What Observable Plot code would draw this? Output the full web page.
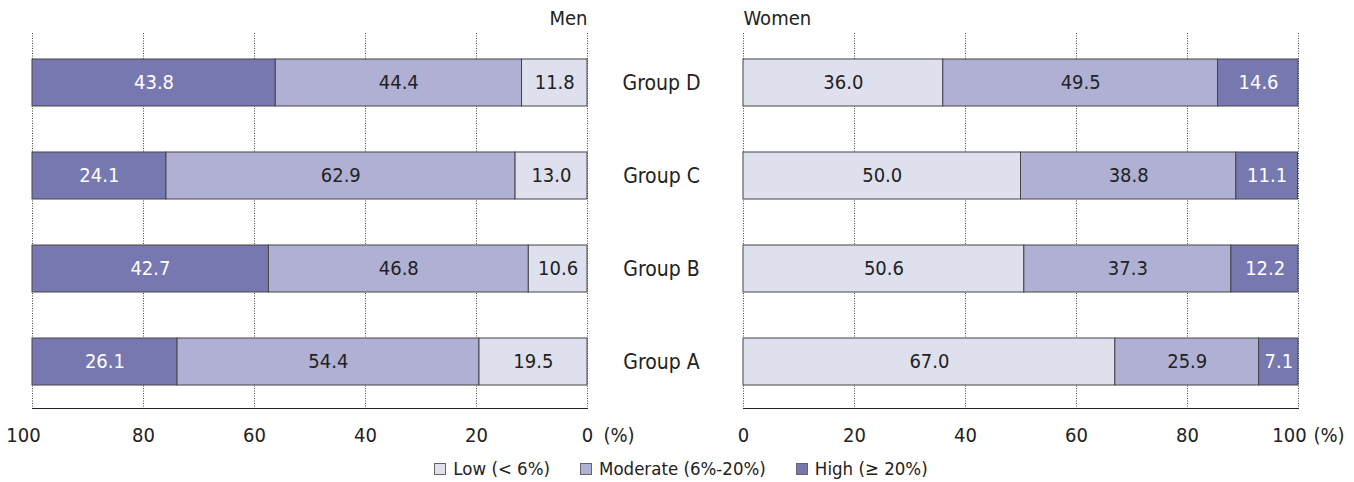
<!DOCTYPE html>
<html>
<head>
<meta charset="utf-8">
<script src="https://cdn.jsdelivr.net/npm/d3@7"></script>
<script src="https://cdn.jsdelivr.net/npm/@observablehq/plot@0.6"></script>
<style>
  body { margin: 0; background: #fff; font-family: "DejaVu Sans Condensed", sans-serif; }
  #wrap { width: 1354px; }
  #plots { display: flex; }
  #legend { height: 27px; display: flex; justify-content: center; align-items: center; gap: 30px; font-size: 18.5px; color: #222; padding-left: 8px; }
  .item { display: flex; align-items: center; gap: 7px; }
  .sw { width: 10px; height: 10px; border: 1px solid #666; display: inline-block; }
  g[aria-label^="x-axis"] path, g[aria-label^="x-axis"] line { stroke: #555; stroke-width: 2px; }
</style>
</head>
<body>
<div id="wrap">
  <div id="plots"></div>
  <div id="legend"></div>
</div>
<script>
const groups = ["Group D", "Group C", "Group B", "Group A"];
const levels = ["Low", "Moderate", "High"];
const legendLabels = ["Low (< 6%)", "Moderate (6%-20%)", "High (\u2265 20%)"];
const colors = ["#dfe0ee", "#b0b0d4", "#7778b0"];
const ticks = [0, 20, 40, 60, 80, 100];

// Men (Group D, C, B, A)
const menLow = [11.8, 13.0, 10.6, 19.5];
const menModerate = [44.4, 62.9, 46.8, 54.4];
const menHigh = [43.8, 24.1, 42.7, 26.1];
// Women (Group D, C, B, A)
const womenLow = [36.0, 50.0, 50.6, 67.0];
const womenModerate = [49.5, 38.8, 37.3, 25.9];
const womenHigh = [14.6, 11.1, 12.2, 7.1];

function table(low, mod, high) {
  const rows = [];
  groups.forEach((g, i) => {
    rows.push({group: g, level: "Low", value: low[i]});
    rows.push({group: g, level: "Moderate", value: mod[i]});
    rows.push({group: g, level: "High", value: high[i]});
  });
  return rows;
}
const men = table(menLow, menModerate, menHigh);
const women = table(womenLow, womenModerate, womenHigh);

const font = '"DejaVu Sans Condensed", sans-serif';

function panel(data, opts) {
  return Plot.plot({
    width: opts.width,
    height: 455,
    marginLeft: opts.marginLeft,
    marginRight: opts.marginRight,
    marginTop: 33,
    marginBottom: 47,
    style: {fontFamily: font, fontSize: "20px", color: "#222", background: "white"},
    x: {domain: opts.reverse ? [100, 0] : [0, 100], ticks: ticks, tickFormat: () => "", tickSize: 0, label: null, line: true, clamp: true},
    y: {domain: groups, paddingInner: 0.496, paddingOuter: 0.257, align: 0.52, axis: null},
    color: {domain: levels, range: colors},
    marks: [
      Plot.ruleX(ticks, {stroke: "#444", strokeDasharray: "1,1.5", strokeWidth: 1}),
      Plot.barX(data, Plot.stackX({x: "value", y: "group", fill: "level", stroke: "#444", strokeWidth: 1})),
      Plot.text(data, Plot.stackX({x: "value", y: "group", text: d => d.value.toFixed(1), fill: d => d.level === "High" ? "white" : "#222", fontSize: 20})),
      Plot.text(ticks.filter(t => t !== 100), {x: d => d, text: d => String(d), frameAnchor: "bottom", lineAnchor: "middle", dy: 27, fontSize: 20, fill: "#222"}),
      Plot.text(ticks.filter(t => t === 100), {x: d => d, text: d => String(d), frameAnchor: "bottom", lineAnchor: "middle", dy: 27, dx: -9, fontSize: 20, fill: "#222"}),
      Plot.text([opts.title], {frameAnchor: opts.reverse ? "top-right" : "top-left", textAnchor: opts.reverse ? "end" : "start", lineAnchor: "middle", dy: -15, fontSize: 20, fill: "#222"}),
      Plot.text(["(%)"], {frameAnchor: "bottom-right", textAnchor: "start", lineAnchor: "middle", dx: opts.pctDx, dy: 27, fontSize: 20, fill: "#222"}),
      ...(opts.groupLabels ? [Plot.text(groups, {y: d => d, frameAnchor: "right", lineAnchor: "middle", dx: 74, textAnchor: "middle", fontSize: 21, fill: "#222"})] : [])
    ]
  });
}

const plots = document.getElementById("plots");
plots.append(panel(men, {width: 700, marginLeft: 32, marginRight: 113, reverse: true, title: "Men", groupLabels: true, pctDx: 16}));
plots.append(panel(women, {width: 654, marginLeft: 43, marginRight: 56, reverse: false, title: "Women", pctDx: 15}));

const legend = document.getElementById("legend");
levels.forEach((l, i) => {
  const item = document.createElement("span");
  item.className = "item";
  const sw = document.createElement("span");
  sw.className = "sw";
  sw.style.background = colors[i];
  const t = document.createElement("span");
  t.textContent = legendLabels[i];
  item.append(sw, t);
  legend.append(item);
});
</script>
</body>
</html>
